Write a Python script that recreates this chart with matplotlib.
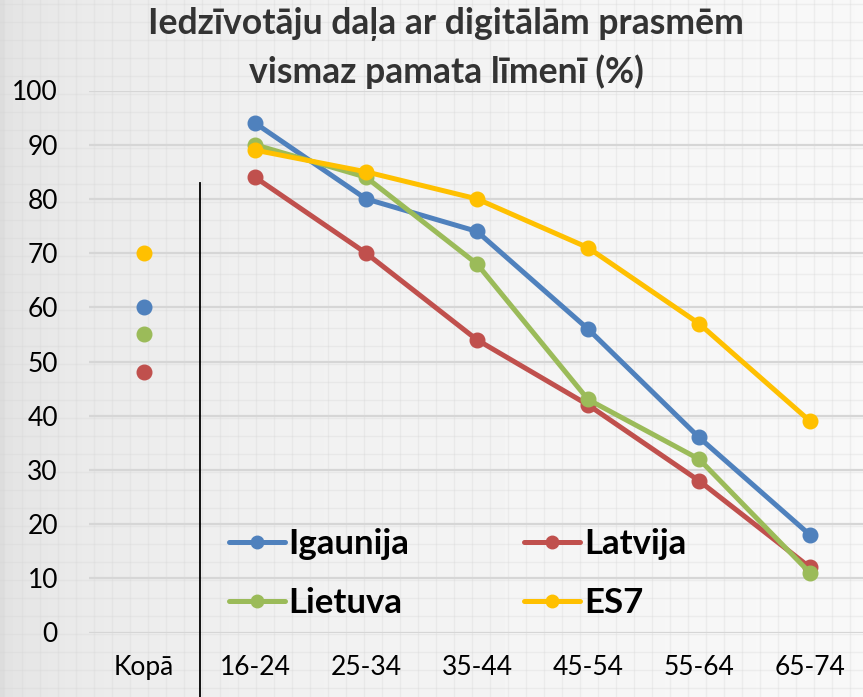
import numpy as np
import matplotlib
matplotlib.use("Agg")
import matplotlib.pyplot as plt
from matplotlib.lines import Line2D

plt.rcParams['font.family'] = ['Lato', 'DejaVu Sans']

categories = ["Kopā", "16-24", "25-34", "35-44", "45-54", "55-64", "65-74"]
series_names = ["Igaunija", "Latvija", "Lietuva", "ES7"]
igaunija = [60, 94, 80, 74, 56, 36, 18]
latvija = [48, 84, 70, 54, 42, 28, 12]
lietuva = [55, 90, 84, 68, 43, 32, 11]
es7 = [70, 89, 85, 80, 71, 57, 39]
colors = ["#4f81bd", "#c0504d", "#9bbb59", "#ffc000"]
title = "Iedzīvotāju daļa ar digitālām prasmēm\nvismaz pamata līmenī (%)"

W, H = 863, 697
fig = plt.figure(figsize=(W / 100, H / 100), dpi=100)
fig.patch.set_facecolor("#ececec")

# background texture
bg = fig.add_axes([0, 0, 1, 1], zorder=0)
bg.set_xlim(0, W)
bg.set_ylim(H, 0)
bg.axis("off")
grad = np.linspace(0.0, 1.0, 200) ** 0.3
bg.imshow(grad[None, :], extent=(0, W, H, 0), aspect="auto",
          cmap="gray", vmin=-8.0, vmax=1.25, zorder=0)
for xv in np.arange(4, W, 18):
    bg.axvline(xv, color="#d4d4d4", lw=1.0, alpha=0.3, zorder=1)
for yv in np.arange(4, H, 18):
    bg.axhline(yv, color="#d4d4d4", lw=1.0, alpha=0.3, zorder=1)

ax = fig.add_axes([88.5 / W, (H - 632.5) / H, 777 / W, 542 / H], zorder=2)
ax.set_facecolor("none")
ax.set_xlim(-0.5, 6.5)
ax.set_ylim(0, 100)
for s in ax.spines.values():
    s.set_visible(False)
ax.set_yticks(range(0, 101, 10))
ax.set_xticks(range(len(categories)))
ax.set_xticklabels(categories)
ax.tick_params(axis="both", length=0, labelsize=19, colors="black")
ax.tick_params(axis="y", pad=22)
ax.tick_params(axis="x", pad=16)
ax.yaxis.grid(True, color="#d6d6d6", lw=1.6)
ax.set_axisbelow(True)

x = np.arange(len(categories))
data = [igaunija, latvija, lietuva, es7]
for vals, c in zip(data, colors):
    ax.plot(x[1:], vals[1:], color=c, lw=3.6, marker="o", ms=10.5,
            solid_capstyle="round", clip_on=False, zorder=3)
    ax.plot(x[:1], vals[:1], linestyle="none", marker="o", ms=10.5,
            color=c, clip_on=False, zorder=3)

ax.plot([0.5, 0.5], [83, -13], color="black", lw=1.3, clip_on=False, zorder=2)

handles = [Line2D([], [], color=c, lw=3.6, marker="o", ms=9, solid_capstyle="round")
           for c in colors]
order = [0, 2, 1, 3]
leg = ax.legend([handles[i] for i in order], [series_names[i] for i in order],
                ncol=2, loc="upper left",
                bbox_to_anchor=(229 / W, 1 - 528 / H), bbox_transform=fig.transFigure,
                frameon=False, borderpad=0, borderaxespad=0,
                handlelength=1.6, handletextpad=0.12, columnspacing=3.3,
                labelspacing=0.78, prop={"weight": "bold", "size": 25})

fig.text(446 / W, 1 - 48 / H, title, ha="center", va="center", fontsize=25.6,
         fontweight="bold", color="#333333", linespacing=1.5)

fig.savefig("out.png", dpi=100, facecolor=fig.get_facecolor())
